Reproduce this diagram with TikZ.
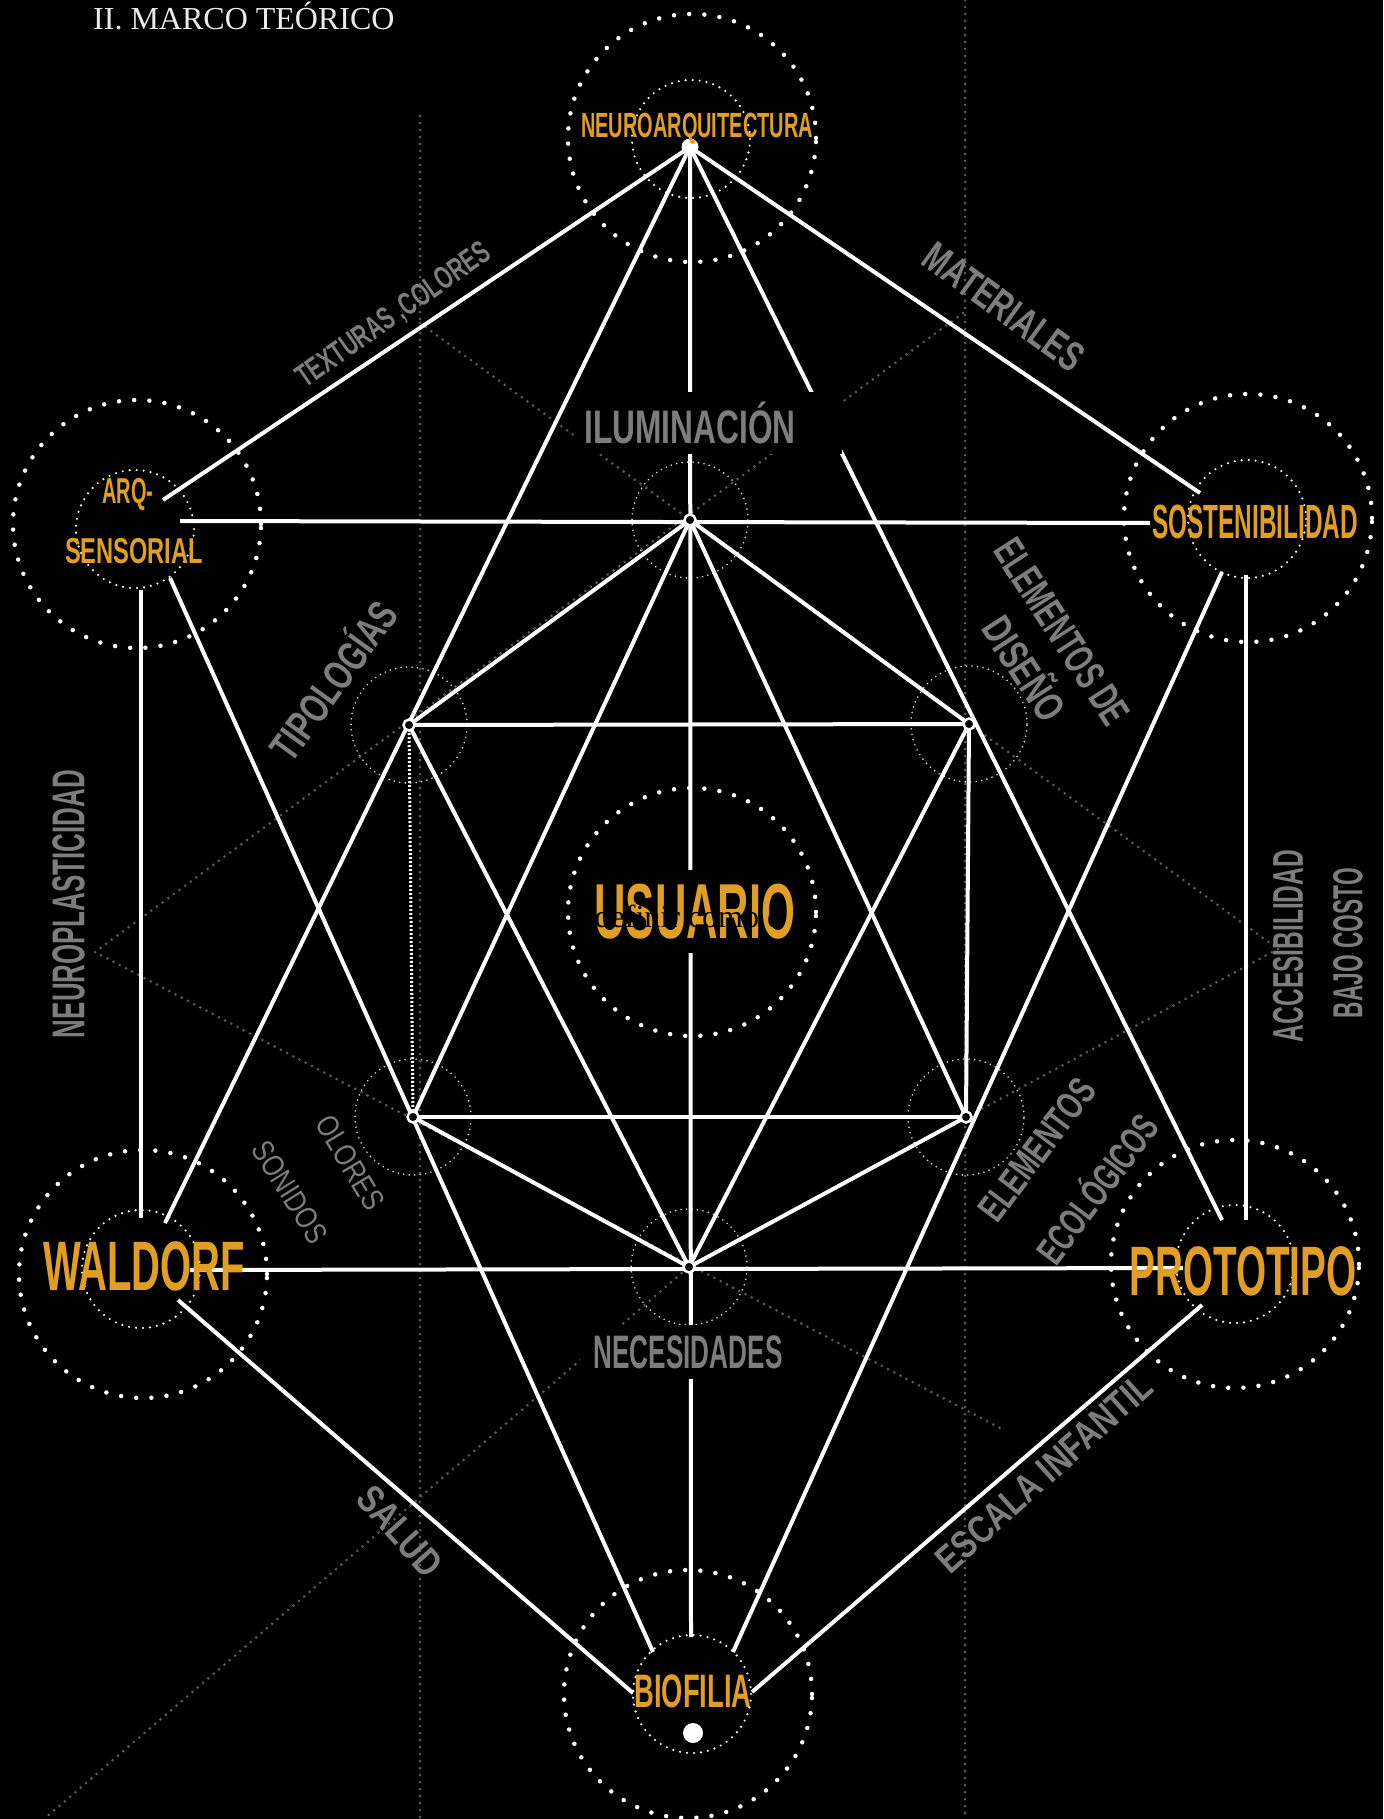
\documentclass[tikz,border=0pt]{standalone}
\usepackage{fontspec}
\usepackage{graphicx}
\setmainfont{Liberation Serif}
\newfontfamily\bebas{Liberation Sans}
\definecolor{gold}{RGB}{224,158,36}
\definecolor{lgray}{RGB}{125,125,125}
\definecolor{dgray}{RGB}{90,90,90}
\newsavebox\lbox
\newcommand\fitw[3]{\sbox\lbox{\bebas\fontsize{#2}{#2}\selectfont #3}\pgfmathsetmacro\sfac{#1/\the\wd\lbox}\scalebox{\sfac}[1]{\usebox\lbox}}
\begin{document}
\begin{tikzpicture}[x=1pt,y=-1pt,
  wline/.style={draw=white,line width=4pt},
  outerc/.style={circle,draw=white,line width=4.5pt,dash pattern=on 0pt off 15.2pt,line cap=round,minimum size=248pt,inner sep=0pt},
  innerc/.style={circle,draw=white,line width=2.4pt,dash pattern=on 0pt off 7pt,line cap=round,minimum size=118pt,inner sep=0pt},
  hexc/.style={circle,draw=white!85!black,line width=1.8pt,dash pattern=on 0pt off 5.5pt,line cap=round,minimum size=116pt,inner sep=0pt},
  ring/.style={circle,draw=white,line width=2.5pt,fill=black,minimum size=11pt,inner sep=0pt},
  gdot/.style={draw=dgray,line width=3pt,dash pattern=on 0pt off 7pt,line cap=round},
  goldlab/.style={text=gold,inner sep=0pt,anchor=base},
  graylab/.style={text=lgray,inner sep=0pt},
  boxlab/.style={text=lgray,fill=black,inner xsep=14pt,inner ysep=10pt},
]
\fill[black] (0,0) rectangle (1383,1819);
\useasboundingbox (0,0) rectangle (1383,1819);

% title
\node[anchor=base west,text=white!92!black,inner sep=0pt,font=\fontsize{32}{32}\selectfont] (title) at (93,30) {II. MARCO TEÓRICO};

% hex vertices
\coordinate (C1) at (690,520);
\coordinate (L1) at (409,725);
\coordinate (R1) at (969,724);
\coordinate (L2) at (413,1117);
\coordinate (R2) at (966,1117);
\coordinate (C2) at (689,1267);

% gray dotted guides
\coordinate (VL) at (95,952);
\coordinate (VR) at (1278,949);
\coordinate (gTL) at (420,323);
\coordinate (gTR) at (963,313);
\coordinate (gBR) at (1000,1428);
\coordinate (gBL) at (44,1819);
\coordinate (vLt) at (420,116);
\coordinate (vLb) at (420,1819);
\coordinate (vRt) at (965,0);
\coordinate (vRb) at (965,1819);
\draw[gdot] (vLt) -- (vLb);
\draw[gdot] (vRt) -- (vRb);
\draw[gdot] (gTR) -- (VL);
\draw[gdot] (gTL) -- (VR);
\draw[gdot] (VL) -- (gBR);
\draw[gdot] (VR) -- (C2) -- (gBL);

% main circles
\node[outerc] (oN) at (692,138) {};
\node[innerc] (iN) at (691,139) {};
\node[outerc] (oA) at (137,524) {};
\node[innerc] (iA) at (135,529) {};
\node[outerc] (oS) at (1248,518) {};
\node[innerc] (iS) at (1247,519) {};
\node[outerc] (oW) at (143,1274) {};
\node[innerc] (iW) at (141,1269) {};
\node[outerc] (oP) at (1235,1264) {};
\node[innerc] (iP) at (1235,1264) {};
\node[outerc] (oB) at (688,1694) {};
\node[innerc] (iB) at (692,1694) {};
\node[outerc] (oU) at (692,912) {};

% small circles round hex vertices
\node[hexc] (hC1) at (C1) {};
\node[hexc] (hL1) at (L1) {};
\node[hexc] (hR1) at (R1) {};
\node[hexc] (hL2) at (L2) {};
\node[hexc] (hR2) at (R2) {};
\node[hexc] (hC2) at (C2) {};

% line end points
\coordinate (Nd) at (690,147);
\coordinate (aN) at (163,500); \coordinate (aS) at (180,521); \coordinate (aW) at (141,590); \coordinate (aB) at (170,578);
\coordinate (sN) at (1200,493); \coordinate (sA) at (1150,523); \coordinate (sB) at (1222,572); \coordinate (sP) at (1246,575);
\coordinate (wA) at (141,1218); \coordinate (wN) at (165,1223); \coordinate (wP) at (190,1270); \coordinate (wB) at (178,1300);
\coordinate (pS) at (1246,1220); \coordinate (pN) at (1222,1220); \coordinate (pW) at (1183,1268); \coordinate (pB) at (1202,1305);
\coordinate (bW) at (633,1693); \coordinate (bA) at (653,1652); \coordinate (bN) at (691,1637); \coordinate (bS) at (733,1652); \coordinate (bP) at (752,1692);

% outer lines
\draw[wline] (Nd) -- (aN);
\draw[wline] (Nd) -- (sN);
\draw[wline] (Nd) -- (bN);
\draw[wline] (Nd) -- (wN);
\draw[wline] (Nd) -- (pN);
\draw[wline] (aS) -- (sA);
\draw[wline] (aW) -- (wA);
\draw[wline] (aB) -- (bA);
\draw[wline] (sB) -- (bS);
\draw[wline] (sP) -- (pS);
\draw[wline] (wP) -- (pW);
\draw[wline] (wB) -- (bW);
\draw[wline] (pB) -- (bP);

% inner lines
\draw[wline] (C1) -- (L1);
\draw[wline] (C1) -- (R1);
\draw[wline] (L1) -- (R1);
\draw[wline] (L2) -- (R2);
\draw[wline] (L1) -- (C2);
\draw[wline] (R1) -- (C2);
\draw[wline] (C1) -- (L2);
\draw[wline] (C1) -- (R2);
\draw[wline] (L2) -- (C2);
\draw[wline] (R2) -- (C2);
\draw[wline] (R1) -- (R2);
\draw[draw=white,line width=3pt,dash pattern=on 2pt off 2pt] (L1) -- (L2);

% rings and dots
\foreach \v in {C1,L1,R1,L2,R2,C2} \node[ring] at (\v) {};
\node[circle,fill=white,minimum size=17pt,inner sep=0pt] (dN) at (Nd) {};
\node[circle,fill=white,minimum size=20pt,inner sep=0pt] (dB) at (693,1733) {};

% gold labels
\node[goldlab] (tN) at (697,137.5) {\fitw{232}{35}{\bfseries NEUROARQUITECTURA}};
\node[goldlab] (tA1) at (128,503) {\fitw{51}{36}{\bfseries ARQ-}};
\node[goldlab] (tA2) at (134,563) {\fitw{138}{36}{\bfseries SENSORIAL}};
\node[goldlab] (tS) at (1255,538) {\fitw{206}{48}{\bfseries SOSTENIBILIDAD}};
\node[goldlab] (tW) at (144,1290) {\fitw{202}{70}{\bfseries WALDORF}};
\node[goldlab] (tP) at (1243,1295) {\fitw{227}{70}{\bfseries PROTOTIPO}};
\node[goldlab] (tB) at (693,1707) {\fitw{117}{47}{\bfseries BIOFILIA}};
\node[goldlab,fill=black,inner ysep=14pt] (tU) at (695,938) {\fitw{201}{78}{\bfseries USUARIO}};
\node[anchor=base,text=black,inner sep=0pt,font=\fontsize{32}{32}\selectfont] (tDef) at (688,927) {definir como e};

% gray labels
\fill[black] (576,392) rectangle (842,454);
\node[graylab] (tIlu) at (690,423) {\fitw{211}{47}{\bfseries ILUMINACIÓN}};
\node[boxlab] (tNec) at (688,1352) {\fitw{189}{47}{\bfseries NECESIDADES}};
\node[graylab,rotate=35] (tTex) at (394,316) {\fitw{229}{32}{\bfseries TEXTURAS ,COLORES}};
\node[graylab,rotate=-36] (tMat) at (1004,307) {\fitw{187}{42}{\bfseries MATERIALES}};
\node[graylab,rotate=54] (tTip) at (331,679) {\fitw{184}{42}{\bfseries TIPOLOGÍAS}};
\node[graylab,rotate=-57] (tEle) at (1062,632) {\fitw{212}{42}{\bfseries ELEMENTOS DE}};
\node[graylab,rotate=-57] (tDis) at (1027,667) {\fitw{115}{42}{\bfseries DISEÑO}};
\node[graylab,rotate=90] (tNeu) at (68.5,904) {\fitw{268}{46}{\bfseries NEUROPLASTICIDAD}};
\node[graylab,rotate=90] (tAcc) at (1288,946) {\fitw{192}{43}{\bfseries ACCESIBILIDAD}};
\node[graylab,rotate=90] (tBaj) at (1348,943) {\fitw{150}{42}{\bfseries BAJO COSTO}};
\node[graylab,rotate=-59] (tOlo) at (350,1163) {\fitw{104}{31}{OLORES}};
\node[graylab,rotate=-58] (tSon) at (290,1192) {\fitw{114}{31}{SONIDOS}};
\node[graylab,rotate=53] (tEl2) at (1037,1150) {\fitw{167}{39}{\bfseries ELEMENTOS}};
\node[graylab,rotate=53] (tEco) at (1095,1187) {\fitw{175}{39}{\bfseries ECOLÓGICOS}};
\node[graylab,rotate=-48] (tSal) at (400,1531) {\fitw{107}{39}{\bfseries SALUD}};
\node[graylab,rotate=42] (tEsc) at (1044,1473) {\fitw{276}{39}{\bfseries ESCALA INFANTIL}};
\end{tikzpicture}
\end{document}
